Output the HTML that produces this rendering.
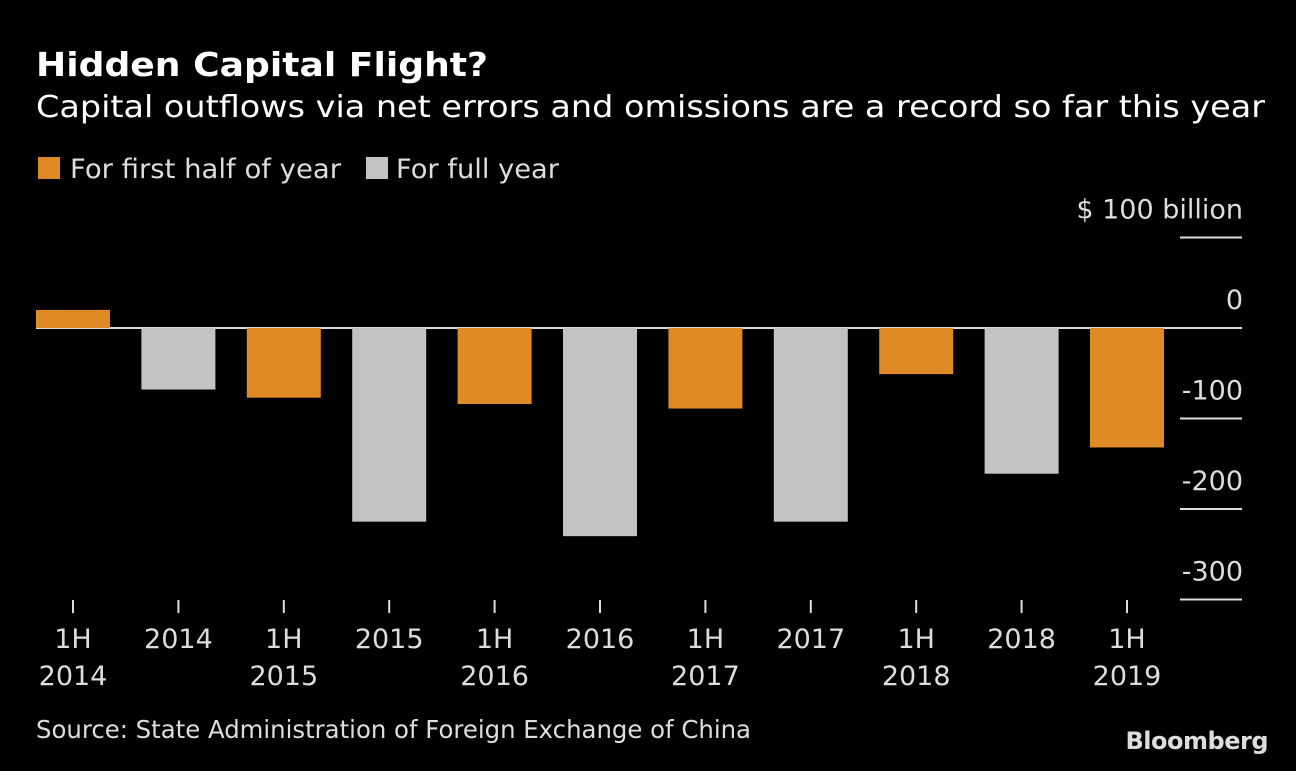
<!DOCTYPE html>
<html><head><meta charset="utf-8"><style>
body{margin:0;background:#000;width:1296px;height:766px;overflow:hidden;font-family:"Liberation Sans","DejaVu Sans",sans-serif;}
svg text{font-family:"DejaVu Sans","Liberation Sans",sans-serif;}
</style></head><body>
<svg width="1296" height="766">
<text x="36" y="76" fill="#fff" font-size="33" font-weight="bold" textLength="452" lengthAdjust="spacingAndGlyphs">Hidden Capital Flight?</text>
<text x="36" y="117" fill="#fff" font-size="30" textLength="1229" lengthAdjust="spacingAndGlyphs">Capital outflows via net errors and omissions are a record so far this year</text>
<g>
<rect x="38" y="157" width="22" height="22" fill="#df8a25"/>
<text x="70" y="178" fill="#ddd" font-size="27" textLength="271" lengthAdjust="spacingAndGlyphs">For first half of year</text>
<rect x="366" y="157" width="22" height="22" fill="#c3c3c3"/>
<text x="396" y="178" fill="#ddd" font-size="27" textLength="163" lengthAdjust="spacingAndGlyphs">For full year</text>
</g>
<g id="plot"></g>
<text x="36" y="738" fill="#ddd" font-size="25" textLength="715" lengthAdjust="spacingAndGlyphs">Source: State Administration of Foreign Exchange of China</text>
<text x="1268" y="749" fill="#ddd" font-size="24" font-weight="bold" text-anchor="end" font-family="Liberation Sans" letter-spacing="-0.5">Bloomberg</text>
</svg>
<script>
const categories=[["1H","2014"],["2014"],["1H","2015"],["2015"],["1H","2016"],["2016"],["1H","2017"],["2017"],["1H","2018"],["2018"],["1H","2019"]];
const values=[20,-68,-77,-214,-84,-230,-89,-214,-51,-161,-132];
const isHalf=[true,false,true,false,true,false,true,false,true,false,true];
const yTicks=[100,0,-100,-200,-300];
const yTickLabels=["$  100 billion","0","-100","-200","-300"];
const NS="http://www.w3.org/2000/svg";
const g=document.getElementById('plot');
const y=v=>328-v*0.905;
const x0=36,step=105.4,bw=74;
const xc=i=>x0+bw/2+i*step;
function mk(t,a){const e=document.createElementNS(NS,t);for(const k in a)e.setAttribute(k,a[k]);g.appendChild(e);return e;}
yTicks.forEach((t,i)=>{
 const l=mk('line',{x1:t===0?36:1180,x2:1242,y1:y(t),y2:y(t),stroke:'#ddd','stroke-width':2});
 
 
 const tx=mk('text',{x:1243,y:y(t)-19,fill:'#ddd','font-size':27,'text-anchor':'end'});
 tx.textContent=yTickLabels[i];
 
 
});
values.forEach((v,i)=>{
 const top=Math.min(y(v),y(0)),h=Math.abs(y(v)-y(0));
 const r=mk('rect',{x:xc(i)-bw/2,y:top,width:bw,height:h,fill:isHalf[i]?'#df8a25':'#c3c3c3'});
 
 
 const tk=mk('line',{x1:xc(i),x2:xc(i),y1:600,y2:613,stroke:'#ddd','stroke-width':2});
 
 
 categories[i].forEach((s,j)=>{
  const t=mk('text',{x:xc(i),y:648+j*37,fill:'#ddd','font-size':27,'text-anchor':'middle'});
  t.textContent=s;
  
  
 });
});
</script>
</body></html>
